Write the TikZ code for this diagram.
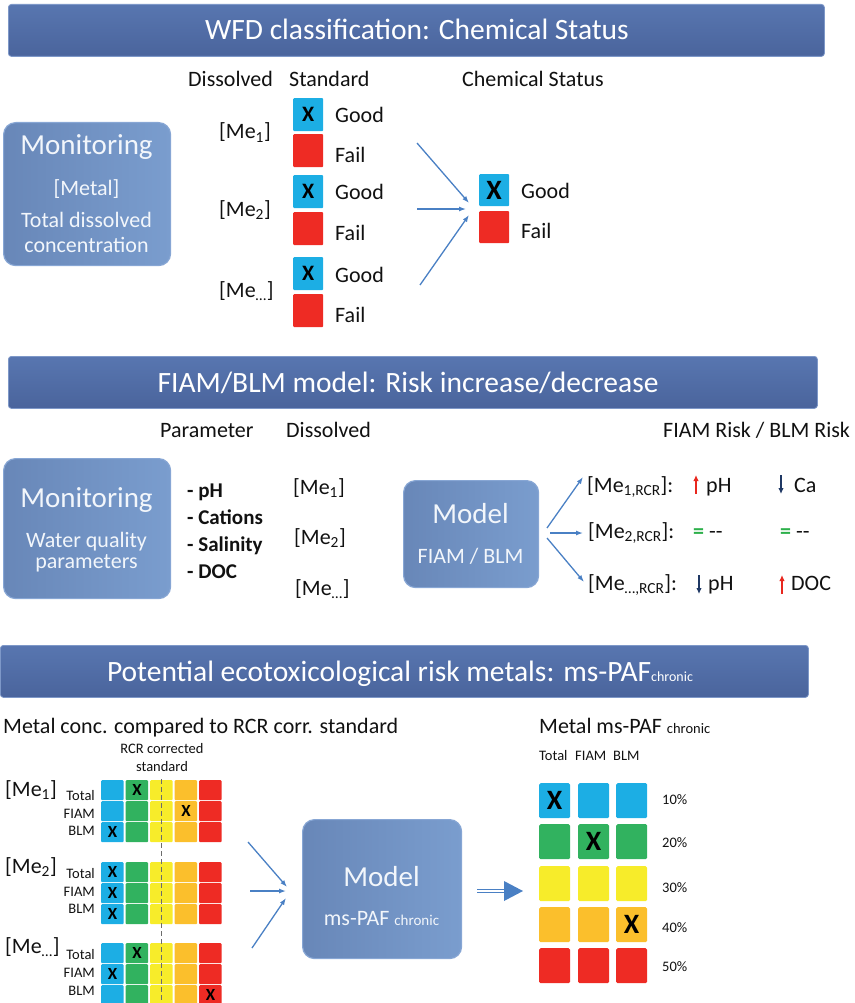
\documentclass[tikz,border=0pt]{standalone}
\usepackage{fontspec}
\setmainfont{Carlito}
\usetikzlibrary{arrows.meta,calc}
\definecolor{bartop}{HTML}{5876B0}
\definecolor{barbot}{HTML}{4A649C}
\definecolor{baredge}{HTML}{7E98C8}
\definecolor{boxl}{HTML}{6887B8}
\definecolor{boxr}{HTML}{7A9DCE}
\definecolor{boxedge}{HTML}{87A6D4}
\definecolor{cblue}{HTML}{1CAEE4}
\definecolor{cgreen}{HTML}{31B25F}
\definecolor{cyellow}{HTML}{F7EC2A}
\definecolor{corange}{HTML}{FBBF2C}
\definecolor{cred}{HTML}{EE2B24}
\definecolor{arrblue}{HTML}{4A80C4}
\definecolor{upred}{HTML}{E8271E}
\definecolor{downnavy}{HTML}{1F3864}
\definecolor{eqgreen}{HTML}{2DB04B}
\definecolor{txt}{HTML}{111111}
\definecolor{boxtxt}{HTML}{F2F6FB}
\tikzset{
  titlebar/.style={rectangle, rounded corners=3pt, top color=bartop, bottom color=barbot,
     draw=baredge, line width=0.8pt, anchor=north west, inner sep=0pt},
  titletext/.style={text=white, font=\fontsize{29.5}{34}\selectfont, inner sep=0pt, anchor=base},
  bluebox/.style={rectangle, rounded corners=12pt, left color=boxl, right color=boxr,
     draw=boxedge, line width=1.2pt, anchor=north west, inner sep=0pt},
  bigw/.style={text=boxtxt, font=\fontsize{29}{34}\selectfont, inner sep=0pt, anchor=base},
  medw/.style={text=boxtxt, font=\fontsize{22}{26}\selectfont, inner sep=0pt, anchor=base},
  lbl/.style={text=txt, font=\fontsize{22}{26}\selectfont, inner sep=0pt, anchor=base west},
  lblc/.style={text=txt, font=\fontsize{22}{26}\selectfont, inner sep=0pt, anchor=base},
  blbl/.style={text=txt, font=\bfseries\fontsize{21}{26}\selectfont, inner sep=0pt, anchor=base west},
  small/.style={text=txt, font=\fontsize{14.5}{17}\selectfont, inner sep=0pt, anchor=base west},
  smallr/.style={text=txt, font=\fontsize{14.5}{17}\selectfont, inner sep=0pt, anchor=base east},
  smallc/.style={text=txt, font=\fontsize{14.5}{17}\selectfont, inner sep=0pt, anchor=base},
  sq/.style={rectangle, rounded corners=1pt, anchor=north west, inner sep=0pt,
     minimum width=30pt, minimum height=33pt},
  gcell/.style={rectangle, rounded corners=1pt, anchor=north west, inner sep=0pt,
     minimum width=22.5pt, minimum height=20pt},
  pcell/.style={rectangle, rounded corners=1.5pt, anchor=north west, inner sep=0pt,
     minimum width=31pt, minimum height=35pt},
  xmark/.style={text=black, font=\bfseries\fontsize{22}{24}\selectfont, inner sep=0pt},
  xbig/.style={text=black, font=\bfseries\fontsize{28}{30}\selectfont, inner sep=0pt},
  xsm/.style={text=black, font=\bfseries\fontsize{17}{20}\selectfont, inner sep=0pt},
  conn/.style={draw=arrblue, line width=1.3pt, -{Latex[length=7pt,width=5pt]}},
  riskup/.style={draw=upred, line width=1.6pt, -{Latex[length=6pt,width=5.5pt]}},
  riskdown/.style={draw=downnavy, line width=1.6pt, -{Latex[length=6pt,width=5.5pt]}},
  eqs/.style={text=eqgreen, font=\bfseries\fontsize{22}{26}\selectfont, inner sep=0pt, anchor=base west}
}
\begin{document}
\begin{tikzpicture}[x=1pt,y=-1pt]
\useasboundingbox (0,0) rectangle (854,1003);

%% ================= Section 1 =================
\node[titlebar, minimum width=816pt, minimum height=52pt] (bar1) at (8,4) {};
\node[titletext] (bar1t) at (417,39.5) {WFD classification: Chemical Status};

\node[bluebox, minimum width=167pt, minimum height=143pt] (mon1) at (3,122) {};
\node[bigw] (mon1a) at (86.5,155) {Monitoring};
\node[medw] (mon1b) at (86.5,195) {[Metal]};
\node[medw] (mon1c) at (86.5,227) {Total dissolved};
\node[medw] (mon1d) at (86.5,252) {concentration};

\node[lbl] (h1a) at (188,87) {Dissolved};
\node[lbl] (h1b) at (289,87) {Standard};
\node[lbl] (h1c) at (462,87) {Chemical Status};

\node[lbl] (me1) at (219,139) {[Me\textsubscript{1}]};
\node[lbl] (me2) at (219,216) {[Me\textsubscript{2}]};
\node[lbl] (me3) at (219,297) {[Me\textsubscript{\dots}]};

\node[sq, fill=cblue] (s1g) at (293,98) {};
\node[sq, fill=cred]  (s1f) at (293,134) {};
\node[sq, fill=cblue] (s2g) at (293,175) {};
\node[sq, fill=cred]  (s2f) at (293,212) {};
\node[sq, fill=cblue] (s3g) at (293,257) {};
\node[sq, fill=cred]  (s3f) at (293,294) {};
\node[xmark] (x1g) at (s1g) {X};
\node[xmark] (x2g) at (s2g) {X};
\node[xmark] (x3g) at (s3g) {X};
\node[lbl] (t1g) at (335,123) {Good};
\node[lbl] (t1f) at (335,163) {Fail};
\node[lbl] (t2g) at (335,200) {Good};
\node[lbl] (t2f) at (335,240) {Fail};
\node[lbl] (t3g) at (335,282) {Good};
\node[lbl] (t3f) at (335,322) {Fail};

\node[sq, fill=cblue, minimum height=32pt] (rg) at (479,174) {};
\node[sq, fill=cred, minimum height=32pt]  (rf) at (479,211) {};
\node[xbig] (xrg) at (rg) {X};
\node[lbl] (trg) at (521,198) {Good};
\node[lbl] (trf) at (521,238) {Fail};

\coordinate (a1s) at (417,143);
\coordinate (a2s) at (417,209);
\coordinate (a3s) at (420,285);
\coordinate (a1e) at (469,203);
\coordinate (a2e) at (466,209);
\coordinate (a3e) at (469,215);
\draw[conn] (a1s) -- (a1e);
\draw[conn] (a2s) -- (a2e);
\draw[conn] (a3s) -- (a3e);

%% ================= Section 2 =================
\node[titlebar, minimum width=809pt, minimum height=52pt] (bar2) at (8,356) {};
\node[titletext] (bar2t) at (408,392) {FIAM/BLM model: Risk increase/decrease};

\node[lbl] (h2a) at (160,437) {Parameter};
\node[lbl] (h2b) at (286,437) {Dissolved};
\node[lbl] (h2c) at (663,437) {FIAM Risk / BLM Risk};

\node[bluebox, minimum width=167pt, minimum height=140pt] (mon2) at (3,458) {};
\node[bigw] (mon2a) at (86.5,507) {Monitoring};
\node[medw] (mon2b) at (86.5,547) {Water quality};
\node[medw] (mon2c) at (86.5,568) {parameters};

\node[blbl] (p1) at (187,497) {- pH};
\node[blbl] (p2) at (187,524) {- Cations};
\node[blbl] (p3) at (187,551) {- Salinity};
\node[blbl] (p4) at (187,578) {- DOC};

\node[lbl] (d1) at (293,494) {[Me\textsubscript{1}]};
\node[lbl] (d2) at (294,544) {[Me\textsubscript{2}]};
\node[lbl] (d3) at (295,595) {[Me\textsubscript{\dots}]};

\node[bluebox, minimum width=135pt, minimum height=107pt] (mod2) at (403,480) {};
\node[bigw] (mod2a) at (470.5,523) {Model};
\node[medw] (mod2b) at (470.5,563) {FIAM / BLM};

\node[lbl] (r1) at (587,492) {[Me\textsubscript{1,RCR}]:};
\node[lbl] (r2) at (588,538) {[Me\textsubscript{2,RCR}]:};
\node[lbl] (r3) at (588,590) {[Me\textsubscript{\dots,RCR}]:};

\coordinate (b1s) at (547,528);
\coordinate (b2s) at (550,533);
\coordinate (b3s) at (547,538);
\coordinate (b1e) at (583,477);
\coordinate (b2e) at (583,533);
\coordinate (b3e) at (584,582);
\draw[conn] (b1s) -- (b1e);
\draw[conn] (b2s) -- (b2e);
\draw[conn] (b3s) -- (b3e);

% row 1
\coordinate (u1a) at (696,494);
\coordinate (u1b) at (696,475);
\draw[riskup] (u1a) -- (u1b);
\node[lbl] (r1p) at (706,492) {pH};
\coordinate (n1a) at (781,475);
\coordinate (n1b) at (781,494);
\draw[riskdown] (n1a) -- (n1b);
\node[lbl] (r1c) at (794,492) {Ca};
% row 2
\node[eqs] (e1) at (693,538) {=};
\node[lbl] (e1d) at (709,538) {-{}-};
\node[eqs] (e2) at (780,538) {=};
\node[lbl] (e2d) at (796,538) {-{}-};
% row 3
\coordinate (n3a) at (699,575);
\coordinate (n3b) at (699,594);
\draw[riskdown] (n3a) -- (n3b);
\node[lbl] (r3p) at (708,590) {pH};
\coordinate (u3a) at (782,594);
\coordinate (u3b) at (782,575);
\draw[riskup] (u3a) -- (u3b);
\node[lbl] (r3d) at (791,590) {DOC};

%% ================= Section 3 =================
\node[titlebar, minimum width=808pt, minimum height=52pt] (bar3) at (0,645) {};
\node[titletext] (bar3t) at (400,681) {Potential ecotoxicological risk metals: ms-PAF{\fontsize{14}{16}\selectfont chronic}};

\node[lbl] (h3a) at (3,733) {Metal conc. compared to RCR corr. standard};
\node[smallc] (rcr1) at (162,753) {RCR corrected};
\node[smallc] (rcr2) at (162,771) {standard};

\foreach \g/\gy in {1/780,2/862,3/943} {
  \foreach \r in {0,1,2} {
    \foreach \c/\col in {0/cblue,1/cgreen,2/cyellow,3/corange,4/cred} {
      \node[gcell, fill=\col] (g\g r\r c\c) at ({101+24.5*\c},{\gy+21*\r}) {};
    }
  }
}
\coordinate (dtop) at (161,779);
\coordinate (dbot) at (161,1003);
\draw[gray!85!black, line width=1pt, dash pattern=on 5pt off 3pt] (dtop) -- (dbot);

\node[xsm] (xa) at (g1r0c1) {X};
\node[xsm] (xb) at (g1r1c3) {X};
\node[xsm] (xc) at (g1r2c0) {X};
\node[xsm] (xd) at (g2r0c0) {X};
\node[xsm] (xe) at (g2r1c0) {X};
\node[xsm] (xf) at (g2r2c0) {X};
\node[xsm] (xg) at (g3r0c1) {X};
\node[xsm] (xh) at (g3r1c0) {X};
\node[xsm] (xi) at (g3r2c4) {X};

\node[lbl] (m1) at (5,796) {[Me\textsubscript{1}]};
\node[lbl] (m2) at (5,873) {[Me\textsubscript{2}]};
\node[lbl] (m3) at (5,953) {[Me\textsubscript{\dots}]};

\node[smallr] (l1a) at (95,800) {Total};
\node[smallr] (l1b) at (95,818) {FIAM};
\node[smallr] (l1c) at (95,835) {BLM};
\node[smallr] (l2a) at (95,878) {Total};
\node[smallr] (l2b) at (95,896) {FIAM};
\node[smallr] (l2c) at (95,913) {BLM};
\node[smallr] (l3a) at (95,959) {Total};
\node[smallr] (l3b) at (95,977) {FIAM};
\node[smallr] (l3c) at (95,995) {BLM};

\coordinate (c1s) at (248,842);
\coordinate (c2s) at (250,891);
\coordinate (c3s) at (252,948);
\coordinate (c1e) at (287,887);
\coordinate (c2e) at (286,891);
\coordinate (c3e) at (286,898);
\draw[conn] (c1s) -- (c1e);
\draw[conn] (c2s) -- (c2e);
\draw[conn] (c3s) -- (c3e);

\node[bluebox, minimum width=159pt, minimum height=139pt] (mod3) at (302,819) {};
\node[bigw] (mod3a) at (381.5,886) {Model};
\node[medw] (mod3b) at (381.5,925) {ms-PAF {\fontsize{15}{17}\selectfont chronic}};

% double arrow
\coordinate (da) at (477,891);
\coordinate (db) at (505,891);
\coordinate (dt1) at (504,881);
\coordinate (dt2) at (523,891);
\coordinate (dt3) at (504,901);
\draw[arrblue, double=white, double distance=2.2pt, line width=1.2pt] (da) -- (db);
\fill[arrblue] (dt1) -- (dt2) -- (dt3) -- cycle;

\node[lbl] (h3b) at (539,733) {Metal ms-PAF {\fontsize{14.5}{17}\selectfont chronic}};
\node[small] (hc1) at (539,760) {Total};
\node[small] (hc2) at (575,760) {FIAM};
\node[small] (hc3) at (613,760) {BLM};

\foreach \r/\ry/\col in {0/783/cblue,1/824/cgreen,2/866/cyellow,3/907/corange,4/948/cred} {
  \foreach \c/\cx in {0/539,1/578,2/616} {
    \node[pcell, fill=\col] (p\r c\c) at (\cx,\ry) {};
  }
}
\node[xbig] (px1) at (p0c0) {X};
\node[xbig] (px2) at (p1c1) {X};
\node[xbig] (px3) at (p3c2) {X};

\node[small] (pc1) at (662,804) {10\%};
\node[small] (pc2) at (662,847) {20\%};
\node[small] (pc3) at (662,892) {30\%};
\node[small] (pc4) at (662,932) {40\%};
\node[small] (pc5) at (662,971) {50\%};
\end{tikzpicture}
\end{document}
